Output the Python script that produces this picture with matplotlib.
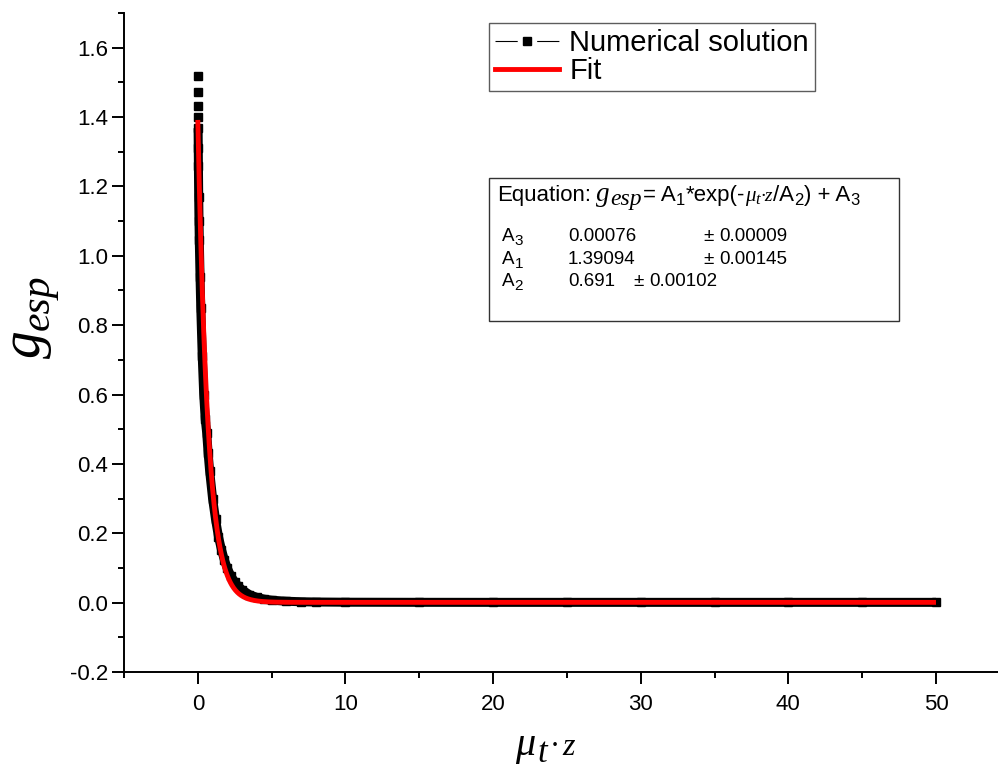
import matplotlib
matplotlib.use("Agg")
import matplotlib.pyplot as plt
import numpy as np
from matplotlib.lines import Line2D
from matplotlib.patches import Rectangle
from matplotlib.ticker import MultipleLocator

plt.rcParams['font.family'] = ['Liberation Sans', 'DejaVu Sans']

W, H = 998, 769
SANS = 'Liberation Sans'
SERIF = 'Liberation Serif'

# --- numerical solution ---
mu_z = [0, 0.005, 0.01, 0.015, 0.02, 0.03, 0.04, 0.06, 0.08, 0.1, 0.15,
        0.2, 0.3, 0.4, 0.5, 0.6, 0.7, 0.8, 1.0, 1.2, 1.4, 1.6, 1.8, 2.0,
        2.25, 2.5, 2.75, 3.0, 3.5, 4.0, 4.5, 5.0, 6.0, 7.0, 8.0, 10, 15,
        20, 25, 30, 35, 40, 45, 50]
g_num = [1.519, 1.472, 1.433, 1.400, 1.368, 1.31, 1.26, 1.17, 1.10, 1.045,
         0.94, 0.85, 0.71, 0.60, 0.53, 0.49, 0.43, 0.38, 0.30, 0.24, 0.19,
         0.153, 0.123, 0.099, 0.076, 0.060, 0.047, 0.037, 0.023, 0.015,
         0.010, 0.007, 0.004, 0.0025, 0.0018, 0.0012, 0.0009, 0.0008,
         0.0008, 0.0008, 0.0008, 0.0008, 0.0008, 0.0008]

# --- fit parameters (as printed in the box) ---
A1, A1_err = 1.39094, 0.00145
A2, A2_err = 0.691, 0.00102
A3, A3_err = 0.00076, 0.00009

fig = plt.figure(figsize=(W / 100, H / 100), dpi=100)
ax = fig.add_axes([124 / W, 97 / H, 874 / W, 659 / H])
renderer = fig.canvas.get_renderer()


def rich(x0, y0, pieces, rotation=0):
    """Draw text pieces one after another, starting at pixel (x0, y0) from
    the top-left; each piece is (text, size, family, style, dy_px, gap_px)."""
    pos = 0.0
    for s, size, fam, sty, dy, gap in pieces:
        if rotation:
            x, y = x0 - dy, y0 - pos
        else:
            x, y = x0 + pos, y0 - dy
        t = fig.text(x / W, 1 - y / H, s, fontsize=size, family=fam,
                     style=sty, ha='left', va='baseline', rotation=rotation,
                     rotation_mode='anchor')
        bb = t.get_window_extent(renderer)
        pos += (bb.height if rotation else bb.width) + gap


# dense symbols in the original merge into a thick band
ax.plot(mu_z[4:], g_num[4:], '-', color='black', lw=6.5,
        solid_capstyle='butt', zorder=2)
ax.plot(mu_z, g_num, 's', color='black', ms=5.8, zorder=2)

x_fit = np.linspace(0, 50, 2000)
ax.plot(x_fit, A1 * np.exp(-x_fit / A2) + A3, color='red', lw=3.5,
        solid_capstyle='butt', zorder=3)

ax.set_xlim(-5, 54.2)
ax.set_ylim(-0.2, 1.7)
for s in ['top', 'right']:
    ax.spines[s].set_visible(False)
for s in ['left', 'bottom']:
    ax.spines[s].set_linewidth(1.4)
ax.xaxis.set_major_locator(MultipleLocator(10))
ax.xaxis.set_minor_locator(MultipleLocator(5))
ax.yaxis.set_major_locator(MultipleLocator(0.2))
ax.yaxis.set_minor_locator(MultipleLocator(0.1))
ax.tick_params(which='major', direction='out', length=8.5, width=1.4,
               labelsize=16)
ax.tick_params(which='minor', direction='out', length=4.5, width=1.4)
ax.tick_params(axis='x', which='major', pad=7)
ax.tick_params(axis='y', which='major', pad=3)
ax.yaxis.set_major_formatter(plt.FuncFormatter(lambda v, p: f"{v:.1f}"))

# axis titles
rich(40, 358, [('g', 40, SERIF, 'italic', 0, 0),
               ('esp', 30, SERIF, 'italic', -9, 0)], rotation=90)
rich(515, 755, [('μ', 29, SERIF, 'italic', 0, 2),
                ('t', 25, SERIF, 'italic', -7, 3),
                ('·', 22, SERIF, 'normal', 0, 2),
                ('z', 23, SERIF, 'italic', 0, 0)])

handles = [
    Line2D([], [], color='black', lw=0.8, marker='s', ms=5.5,
           linestyle=(0, (20, 17.5))),
    Line2D([], [], color='red', lw=3.5),
]
leg = ax.legend(handles, ['Numerical solution', 'Fit'], loc='upper left',
                bbox_to_anchor=(489 / W, 1 - 23 / H),
                bbox_transform=fig.transFigure, fontsize=21, frameon=True,
                fancybox=False, handlelength=2.2, handletextpad=0.35,
                borderpad=0.2, labelspacing=0.0, borderaxespad=0)
leg.get_frame().set_edgecolor('#333333')
leg.get_frame().set_linewidth(1.0)

# equation box
fig.patches.append(Rectangle((489 / W, 1 - 321 / H), 410 / W, 143 / H,
                             transform=fig.transFigure, facecolor='white',
                             edgecolor='#333333', lw=1.0))
main, sub = 16, 12
rich(497, 201, [('Equation:', main, SANS, 'normal', 0, 5),
                ('g', 19.5, SERIF, 'italic', 0, 1),
                ('esp', 17, SERIF, 'italic', -4, 1),
                ('= A', main, SANS, 'normal', 0, 0),
                ('1', sub, SANS, 'normal', -4, 0),
                ('*exp(-', main, SANS, 'normal', 0, 0),
                ('μ', 15, SERIF, 'italic', 0, 0),
                ('t', 12, SERIF, 'italic', -3, 1),
                ('·z', 14, SERIF, 'italic', 0, 0),
                ('/A', main, SANS, 'normal', 0, 0),
                ('2', sub, SANS, 'normal', -4, 0),
                (') + A', main, SANS, 'normal', 0, 0),
                ('3', sub, SANS, 'normal', -4, 0)])

rows = [
    ('3', f"{A3:.5f}", f"{A3_err:.5f}", 703),
    ('1', f"{A1:.5f}", f"{A1_err:.5f}", 703),
    ('2', f"{A2:.3f}", f"{A2_err:.5f}", 633),
]
row_size = 13.5
for i, (idx, val, err, pm_x) in enumerate(rows):
    yb = 241 + i * 22.5
    rich(502, yb, [('A', row_size, SANS, 'normal', 0, 0),
                   (idx, 11, SANS, 'normal', -4, 0)])
    rich(568, yb, [(val, row_size, SANS, 'normal', 0, 0)])
    rich(pm_x, yb, [('±', row_size, SANS, 'normal', 0, 6),
                    (err, row_size, SANS, 'normal', 0, 0)])

fig.savefig('out.png', dpi=100)
